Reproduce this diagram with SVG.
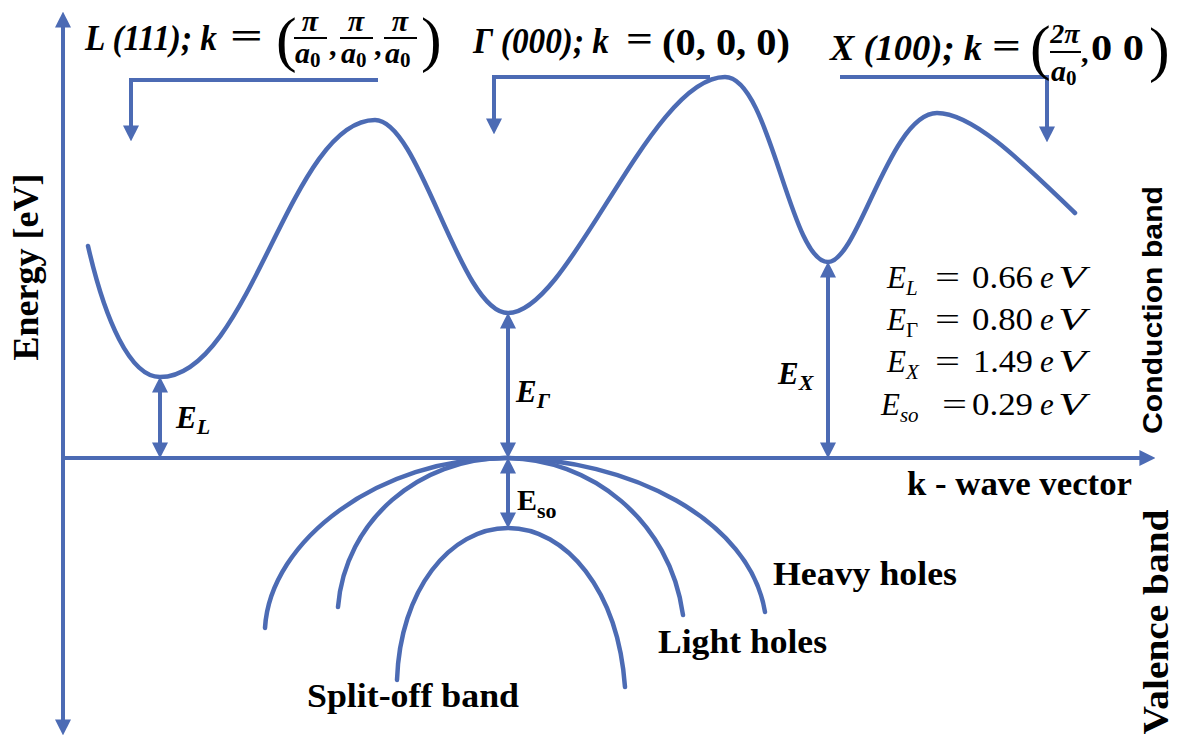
<svg xmlns="http://www.w3.org/2000/svg" width="1182" height="739" viewBox="0 0 1182 739">
<style>
.ln{fill:none;stroke:#4C6BB4;stroke-width:4;stroke-linejoin:miter}
.cv{fill:none;stroke:#4C6BB4;stroke-width:4.5;stroke-linecap:round}
.bar{stroke:#000;stroke-width:2}
.ser{font-family:"Liberation Serif","Times New Roman",serif;fill:#000}
.bi{font-family:"Liberation Serif","Times New Roman",serif;font-weight:700;font-style:italic;fill:#000}
.b{font-family:"Liberation Serif","Times New Roman",serif;font-weight:700;fill:#000}
.m{font-family:"Liberation Serif","Times New Roman",serif;font-size:31px;fill:#000}
.mi{font-family:"Liberation Serif","Times New Roman",serif;font-style:italic;font-size:31px;fill:#000}
.sans{font-family:"Liberation Sans",Arial,sans-serif;font-weight:700;fill:#000}
</style>
<defs>
<marker id="ah" viewBox="0 0 10 10" refX="6" refY="5" markerWidth="16" markerHeight="16" markerUnits="userSpaceOnUse" orient="auto-start-reverse"><path d="M0,0 L10,5 L0,10 z" fill="#4C6BB4"/></marker>
</defs>
<rect width="1182" height="739" fill="#fff"/>

<g id="connectors">
<line class="ln" x1="63" y1="18" x2="63" y2="729" marker-start="url(#ah)" marker-end="url(#ah)"/>
<line class="ln" x1="63" y1="458" x2="1149" y2="458" marker-end="url(#ah)"/>
<polyline class="ln" points="378,80 131,80 131,135" marker-end="url(#ah)"/>
<polyline class="ln" points="710,77 494,77 494,128" marker-end="url(#ah)"/>
<polyline class="ln" points="840,77 1047,77 1047,136" marker-end="url(#ah)"/>
<line class="ln" x1="160" y1="383" x2="160" y2="452" marker-start="url(#ah)" marker-end="url(#ah)"/>
<line class="ln" x1="508" y1="319" x2="508" y2="452" marker-start="url(#ah)" marker-end="url(#ah)"/>
<line class="ln" x1="828" y1="268" x2="828" y2="452" marker-start="url(#ah)" marker-end="url(#ah)"/>
<line class="ln" x1="508" y1="464" x2="508" y2="522" marker-start="url(#ah)" marker-end="url(#ah)"/>
</g>

<g id="conduction-curve">
<path class="cv" d="M88,246 C105,320 130,377 160,377 C250,377 290,120 375,120 C420,120 460,313 508,313 C570,313 650,77 725,77 C770,77 790,262 828,262 C858,262 890,113 937,113 C975,113 1030,170 1075,213"/>
</g>

<g id="heavy-holes-curve"><path class="cv" d="M265,628 C270,540 380,458 505,458 C630,458 750,520 765,612"/></g>
<g id="light-holes-curve"><path class="cv" d="M338,607 C345,520 420,458 505,458 C590,458 670,520 683,615"/></g>
<g id="split-off-curve"><path class="cv" d="M397,680 C400,590 450,528 508,528 C566,528 618,590 625,687"/></g>

<g id="label-L">
<text class="bi" font-size="36" x="85" y="50" textLength="132" lengthAdjust="spacingAndGlyphs">L (111); k</text>
<text class="b" font-size="36" x="230" y="48" textLength="33" lengthAdjust="spacingAndGlyphs">=</text>
<text class="ser" font-size="62" x="276" y="60">(</text>
<text class="bi" font-size="30" x="310" y="31" text-anchor="middle">π</text>
<line class="bar" x1="294" y1="38" x2="327" y2="38"/>
<text class="bi" font-size="30" x="295" y="63">a<tspan class="b" font-style="normal" font-size="21" dy="4">0</tspan></text>
<text class="b" font-size="30" x="329" y="55">,</text>
<text class="bi" font-size="30" x="356" y="31" text-anchor="middle">π</text>
<line class="bar" x1="340" y1="38" x2="373" y2="38"/>
<text class="bi" font-size="30" x="341" y="63">a<tspan class="b" font-style="normal" font-size="21" dy="4">0</tspan></text>
<text class="b" font-size="30" x="374" y="55">,</text>
<text class="bi" font-size="30" x="400" y="31" text-anchor="middle">π</text>
<line class="bar" x1="384" y1="38" x2="417" y2="38"/>
<text class="bi" font-size="30" x="385" y="63">a<tspan class="b" font-style="normal" font-size="21" dy="4">0</tspan></text>
<text class="ser" font-size="62" x="421" y="60">)</text>
</g>

<g id="label-Gamma">
<text class="bi" font-size="36" x="473" y="53" textLength="136" lengthAdjust="spacingAndGlyphs">Γ (000); k</text>
<text class="b" font-size="36" x="626" y="51" textLength="27" lengthAdjust="spacingAndGlyphs">=</text>
<text class="b" font-size="38" x="662" y="55" textLength="128" lengthAdjust="spacingAndGlyphs">(0, 0, 0)</text>
</g>

<g id="label-X">
<text class="bi" font-size="36" x="830" y="60" textLength="152" lengthAdjust="spacingAndGlyphs">X (100); k</text>
<text class="b" font-size="36" x="992" y="58" textLength="29" lengthAdjust="spacingAndGlyphs">=</text>
<text class="ser" font-size="62" x="1030" y="68">(</text>
<text class="bi" font-size="28" x="1065" y="43" text-anchor="middle">2π</text>
<line class="bar" x1="1050" y1="52" x2="1081" y2="52"/>
<text class="bi" font-size="30" x="1051" y="81">a<tspan class="b" font-style="normal" font-size="21" dy="4">0</tspan></text>
<text class="b" font-size="30" x="1081" y="62">,</text>
<text class="b" font-size="36" x="1091" y="60" textLength="53" lengthAdjust="spacingAndGlyphs">0 0</text>
<text class="ser" font-size="62" x="1149" y="70">)</text>
</g>

<g id="gap-labels">
<text class="bi" font-size="31" x="176" y="428">E<tspan font-size="22" dy="6">L</tspan></text>
<text class="bi" font-size="31" x="516" y="402">E<tspan font-size="22" dy="6">Γ</tspan></text>
<text class="bi" font-size="31" x="778" y="384">E<tspan font-size="22" dy="6">X</tspan></text>
<text class="b" font-size="30" x="517" y="510">E<tspan font-size="22" dy="8">so</tspan></text>
</g>

<g id="legend">
<text class="mi" x="887" y="288">E<tspan font-size="21" dy="7">L</tspan></text>
<text class="m" x="935" y="288" textLength="25" lengthAdjust="spacingAndGlyphs">=</text>
<text class="m" x="972" y="288" textLength="61" lengthAdjust="spacingAndGlyphs">0.66</text>
<text class="mi" x="1040" y="288">e</text>
<text class="mi" x="1058" y="288" textLength="28" lengthAdjust="spacingAndGlyphs">V</text>

<text class="mi" x="887" y="330">E<tspan font-style="normal" font-size="21" dy="7">Γ</tspan></text>
<text class="m" x="935" y="330" textLength="25" lengthAdjust="spacingAndGlyphs">=</text>
<text class="m" x="972" y="330" textLength="61" lengthAdjust="spacingAndGlyphs">0.80</text>
<text class="mi" x="1040" y="330">e</text>
<text class="mi" x="1058" y="330" textLength="28" lengthAdjust="spacingAndGlyphs">V</text>

<text class="mi" x="887" y="372">E<tspan font-size="21" dy="7">X</tspan></text>
<text class="m" x="935" y="372" textLength="25" lengthAdjust="spacingAndGlyphs">=</text>
<text class="m" x="973" y="372" textLength="60" lengthAdjust="spacingAndGlyphs">1.49</text>
<text class="mi" x="1040" y="372">e</text>
<text class="mi" x="1058" y="372" textLength="28" lengthAdjust="spacingAndGlyphs">V</text>

<text class="mi" x="881" y="415">E<tspan font-size="21" dy="7">so</tspan></text>
<text class="m" x="942" y="415" textLength="25" lengthAdjust="spacingAndGlyphs">=</text>
<text class="m" x="972" y="415" textLength="61" lengthAdjust="spacingAndGlyphs">0.29</text>
<text class="mi" x="1040" y="415">e</text>
<text class="mi" x="1058" y="415" textLength="28" lengthAdjust="spacingAndGlyphs">V</text>
</g>

<g id="axis-labels">
<text class="b" font-size="36" transform="translate(38,267) rotate(-90)" text-anchor="middle">Energy [eV]</text>
<text class="b" font-size="34" x="907" y="495" textLength="225" lengthAdjust="spacingAndGlyphs">k - wave vector</text>
<text class="sans" font-size="27" transform="translate(1162,310) rotate(-90)" text-anchor="middle" textLength="248" lengthAdjust="spacingAndGlyphs">Conduction band</text>
<text class="b" font-size="36" transform="translate(1168,622) rotate(-90)" text-anchor="middle" textLength="225" lengthAdjust="spacingAndGlyphs">Valence band</text>
</g>

<g id="band-labels">
<text class="b" font-size="34" x="773" y="585" textLength="184" lengthAdjust="spacingAndGlyphs">Heavy holes</text>
<text class="b" font-size="34" x="658" y="653" textLength="169" lengthAdjust="spacingAndGlyphs">Light holes</text>
<text class="b" font-size="34" x="307" y="707" textLength="212" lengthAdjust="spacingAndGlyphs">Split-off band</text>
</g>
</svg>
